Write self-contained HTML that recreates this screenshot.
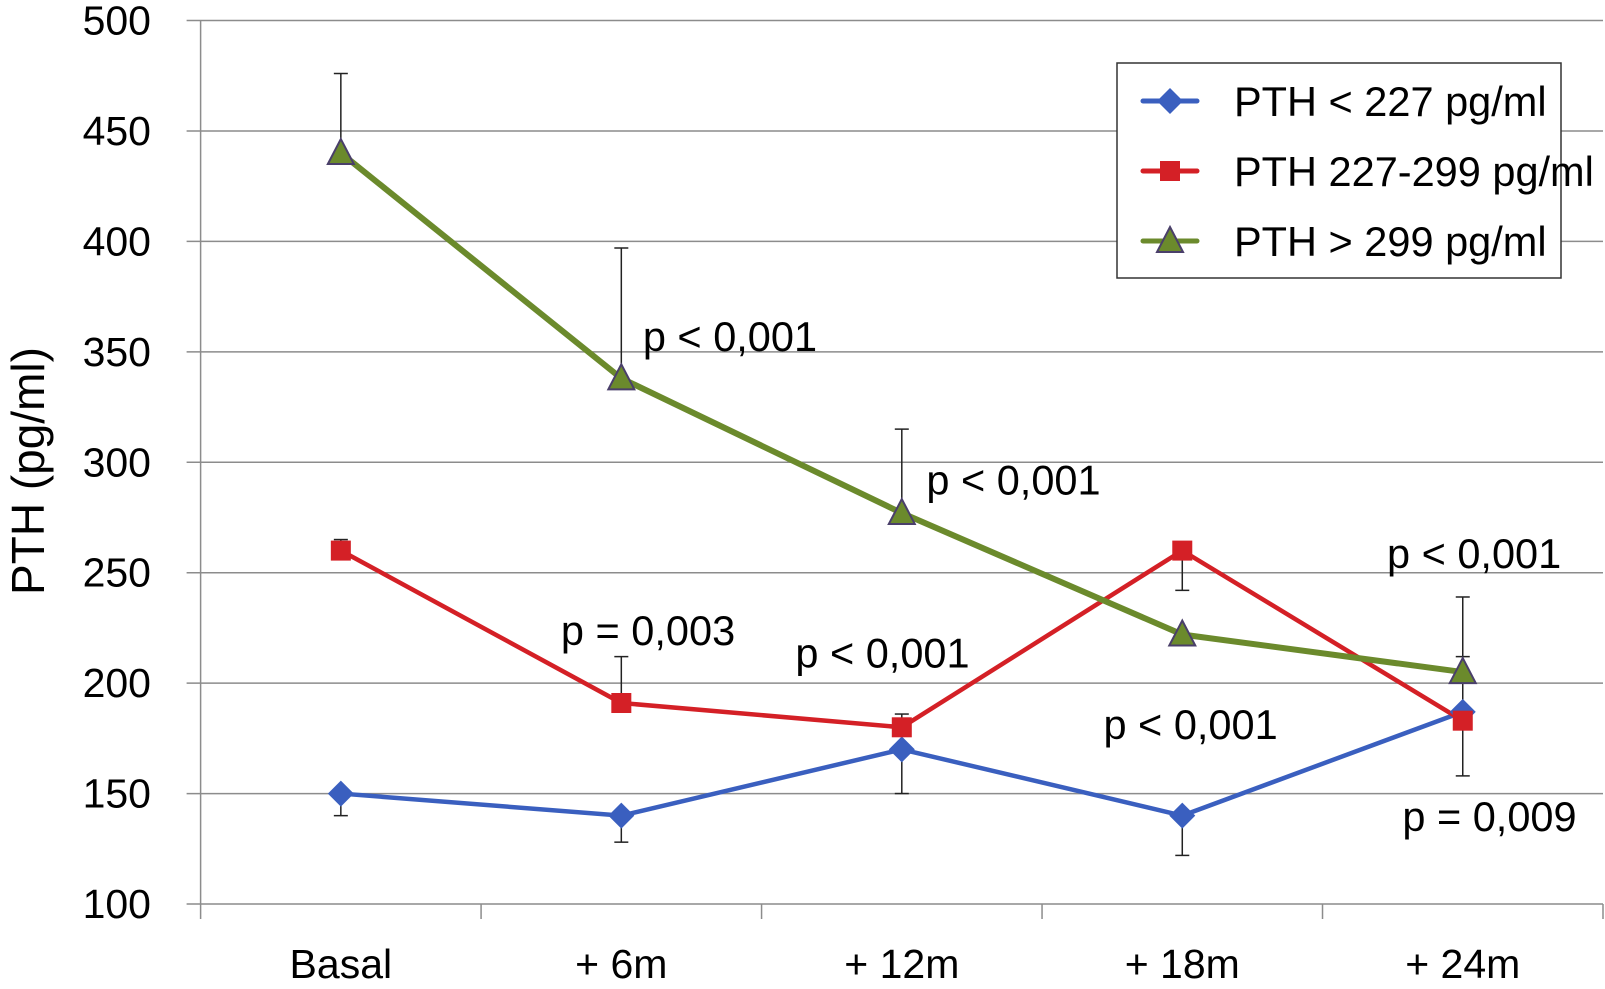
<!DOCTYPE html>
<html><head><meta charset="utf-8"><style>
body{margin:0;background:#fff;}
svg{display:block;font-family:"Liberation Sans",Arial,sans-serif;}
</style></head><body>
<svg id="chart" width="1605" height="989" viewBox="0 0 1605 989"></svg>
<script>
const categories=["Basal","+ 6m","+ 12m","+ 18m","+ 24m"];
const yTicks=[100,150,200,250,300,350,400,450,500];
const seriesNames=["PTH < 227 pg/ml","PTH 227-299 pg/ml","PTH > 299 pg/ml"];
const blueValues=[150,140,170,140,187];
const redValues=[260,191,180,260,183];
const greenValues=[440,338,277,222,205];
const blueErr=[140,128,150,122,212];
const redErr=[265,212,186,242,158];
const greenErr=[476,397,315,null,239];
const annotations=["p < 0,001","p < 0,001","p < 0,001","p = 0,003","p < 0,001","p < 0,001","p = 0,009"];
const annX=[628,905,1355,548,777,1078,1370];
const annY=[343,483,555,630,652,722,812];

const S=1.0236;
const L=200.6,R=1603,T=20.5,B=904;
const svg=document.getElementById('chart');
const NS='http://www.w3.org/2000/svg';
function yS(v){return B-(v-100)/400*(B-T);}
const cw=(R-L)/categories.length;
function xS(i){return L+cw*(i+0.5);}
function mk(tag,attrs,parent){const e=document.createElementNS(NS,tag);for(const k in attrs)e.setAttribute(k,attrs[k]);(parent||svg).appendChild(e);return e;}

yTicks.forEach(v=>{
  const g=mk('line',{x1:L-14,x2:R,y1:yS(v),y2:yS(v),stroke:'#8c8c8c','stroke-width':1.5});
  
  
  const t=mk('text',{x:151,y:yS(v)+14,'text-anchor':'end','font-size':41,fill:'#000'});
  t.textContent=v;
  
  
});
const ya=mk('line',{x1:L,x2:L,y1:T,y2:B,stroke:'#8c8c8c','stroke-width':1.5});


for(let i=0;i<=categories.length;i++){
  const x=L+cw*i;
  const tk=mk('line',{x1:x,x2:x,y1:B,y2:B+15,stroke:'#8c8c8c','stroke-width':1.5});
  
  
}
categories.forEach((c,i)=>{
  const t=mk('text',{x:xS(i),y:978,'text-anchor':'middle','font-size':41});
  t.textContent=c;
  
  
});
const yt=mk('text',{x:0,y:0,'text-anchor':'middle','font-size':46,transform:'translate(44,471) rotate(-90)'});
yt.textContent='PTH (pg/ml)';



const series=[
 {vals:blueValues,err:blueErr,color:'#3a5fbf',marker:'diamond',name:'blue'},
 {vals:redValues,err:redErr,color:'#d42026',marker:'square',name:'red'},
 {vals:greenValues,err:greenErr,color:'#6b8a2c',marker:'triangle',name:'green'}
];
series.forEach(s=>{
  s.err.forEach((e,i)=>{
    if(e==null)return;
    const x=xS(i);
    const l=mk('line',{x1:x,x2:x,y1:yS(s.vals[i]),y2:yS(e),stroke:'#222','stroke-width':1.5});
    
    
    const c=mk('line',{x1:x-7,x2:x+7,y1:yS(e),y2:yS(e),stroke:'#222','stroke-width':1.5});
    
    
  });
});
function marker(type,x,y,color,parent){
  let m;
  if(type==='diamond')m=mk('polygon',{points:`${x},${y-13} ${x+13},${y} ${x},${y+13} ${x-13},${y}`,fill:color},parent);
  else if(type==='square')m=mk('rect',{x:x-10,y:y-10,width:20,height:20,fill:color},parent);
  else m=mk('polygon',{points:`${x},${y-14} ${x+13},${y+11} ${x-13},${y+11}`,fill:color,stroke:'#4a3f6a','stroke-width':2},parent);
  return m;
}
series.forEach(s=>{
  const p=mk('polyline',{points:s.vals.map((v,i)=>xS(i)+','+yS(v)).join(' '),fill:'none',stroke:s.color,'stroke-width':s.marker==='triangle'?6:4.5});
  
  
});
series.forEach(s=>{
  s.vals.forEach((v,i)=>{
    const m=marker(s.marker,xS(i),yS(v),s.color);
    
    
  });
});
annotations.forEach((a,i)=>{
  const t=mk('text',{x:annX[i]*S,y:annY[i]*S,'font-size':41.5});
  t.textContent=a;
  
  
});
const lg=mk('g',{});


const lr=mk('rect',{x:1117,y:63,width:444,height:215,fill:'#fff',stroke:'#333','stroke-width':1.5},lg);


const lyy=[101,171,241];
series.forEach((s,i)=>{
  const ln=mk('line',{x1:1143,x2:1197,y1:lyy[i],y2:lyy[i],stroke:s.color,'stroke-width':5,'stroke-linecap':'round'},lg);
  
  
  const m=marker(s.marker,1170,lyy[i],s.color,lg);
  
  
  const t=mk('text',{x:1234,y:lyy[i]+15,'font-size':41.5},lg);
  t.textContent=seriesNames[i];
  
  
});
</script>
</body></html>
